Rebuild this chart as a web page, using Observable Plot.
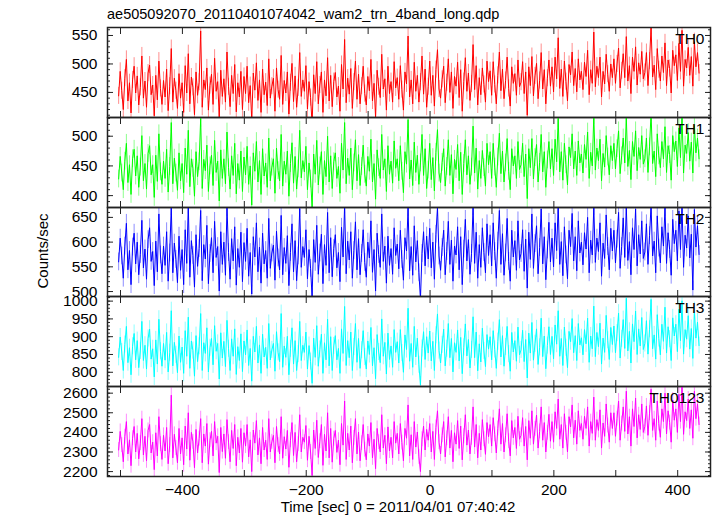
<!DOCTYPE html>
<html>
<head>
<meta charset="utf-8">
<script src="https://cdn.jsdelivr.net/npm/d3@7"></script>
<script src="https://cdn.jsdelivr.net/npm/@observablehq/plot@0.6"></script>
<style>
  html, body { margin: 0; padding: 0; background: #fff; }
  #wrap { position: relative; width: 717px; height: 516px; font-family: "Liberation Sans", Arial, Helvetica, sans-serif; color: #000; overflow: hidden; }
  .abs { position: absolute; white-space: nowrap; line-height: 1; }
  #wrap svg { overflow: visible; }
</style>
</head>
<body>
<div id="wrap">
  <div class="abs" id="title" style="left:107px; top:7px; font-size:14.5px;">ae505092070_20110401074042_wam2_trn_4band_long.qdp</div>
  <div class="abs" id="ylab" style="left:42px; top:251px; font-size:15px; transform: translate(-50%,-50%) rotate(-90deg);">Counts/sec</div>
  <div class="abs" id="xlab" style="left:398px; top:499px; font-size:15px; transform: translateX(-50%);">Time [sec] 0 = 2011/04/01 07:40:42</div>
</div>
<script>
// ---- data (count rates) ----
const t0 = -503;   // first bin time [sec]
const dt = 2.5;    // bin spacing [sec]

const th0 = [
444,487,453,420,475,508,435,467,414,472,496,449,479,428,459,514,440,470,424,484,
498,446,463,409,480,437,505,457,429,471,442,491,418,461,527,433,475,453,422,483,
440,467,415,497,449,518,430,477,459,411,486,445,468,558,424,472,455,493,419,462,
482,429,510,452,469,407,489,443,474,433,521,460,425,480,448,499,416,467,442,487,
420,478,448,496,432,462,401,484,454,502,436,472,415,491,446,468,427,509,440,461,
475,417,493,455,438,515,429,471,449,486,412,467,501,434,479,424,458,520,443,472,
452,497,421,469,441,394,481,448,504,430,463,486,415,472,444,511,435,480,425,469,
485,442,461,417,499,456,543,432,475,447,492,422,468,505,438,482,430,461,496,448,
428,478,453,508,435,466,406,489,460,441,517,456,474,419,496,448,469,433,504,458,
476,438,497,455,419,486,465,549,442,472,430,503,452,480,433,468,514,447,491,424,
460,505,445,480,426,490,525,456,440,473,496,432,467,509,450,486,422,478,461,503,
441,490,417,469,511,452,484,436,465,534,455,497,428,476,446,493,464,433,505,469,
488,445,504,464,430,480,521,453,491,439,471,512,457,426,495,466,483,445,507,460,
468,504,448,486,410,495,462,513,444,479,501,439,471,520,456,490,430,475,507,461,
495,451,512,474,546,457,491,443,505,469,435,499,481,521,462,492,451,509,472,487,
455,503,478,524,446,490,466,556,460,496,476,512,442,487,465,517,482,452,500,476,
509,466,500,528,458,488,518,476,548,470,497,448,512,487,530,463,502,482,522,474,
485,520,462,505,566,477,498,455,527,490,470,514,485,537,462,507,492,449,524,497,
516,471,536,487,559,461,508,493,529,480,513,461,539,495,520,484
];

const th1 = [
428,466,438,410,458,488,422,452,402,462,478,433,467,414,448,501,425,454,411,471,
484,435,452,397,468,424,504,440,419,458,429,478,406,449,523,420,463,438,409,472,
425,454,405,480,436,510,415,462,446,399,474,432,457,530,412,461,442,485,407,450,
468,417,493,439,458,391,477,429,462,420,507,447,411,467,434,488,403,454,426,475,
407,465,435,483,419,450,384,472,441,491,423,459,402,479,433,455,414,497,425,448,
462,404,480,442,425,503,416,458,436,475,399,454,489,421,466,411,445,510,430,459,
440,483,410,455,428,380,470,436,493,418,450,474,402,459,432,500,423,467,412,457,
472,429,449,404,488,443,523,420,463,434,480,410,455,494,425,469,417,449,485,436,
416,466,441,495,423,454,394,477,447,429,503,443,462,407,484,436,458,421,492,446,
462,425,484,441,405,474,453,528,428,460,417,490,439,468,419,455,503,434,479,412,
443,488,427,464,408,473,511,438,422,456,479,416,449,494,434,469,403,461,444,486,
425,473,402,454,494,435,467,419,448,517,438,480,411,459,429,476,447,416,488,452,
474,429,488,448,414,465,505,437,475,423,455,496,441,410,479,450,467,429,491,444,
452,488,432,470,395,479,447,496,428,464,486,423,456,503,440,474,414,460,491,445,
479,434,495,457,530,440,474,426,488,452,418,482,464,504,445,475,434,492,455,470,
438,486,461,507,429,473,450,535,443,480,459,495,425,471,448,501,465,435,484,459,
488,445,479,509,437,467,497,455,532,449,476,427,491,466,509,442,481,461,501,453,
462,497,439,482,540,454,475,432,504,467,447,491,462,516,439,484,469,426,501,474,
492,449,514,464,536,438,485,471,506,458,490,438,518,472,497,462
];

const th2 = [
560,608,572,527,592,638,544,583,514,590,618,556,600,534,575,644,548,586,525,605,
629,561,581,512,602,540,657,574,536,592,553,621,521,578,672,538,598,565,518,612,
543,585,514,625,557,675,529,603,573,509,615,551,587,664,522,595,566,634,516,577,
609,538,642,569,591,501,621,555,600,533,670,579,525,607,562,631,513,587,549,620,
520,599,561,628,531,579,495,611,570,639,540,590,517,618,556,583,527,648,547,578,
594,523,622,568,544,654,534,589,557,613,512,579,637,540,603,522,572,668,549,591,
569,625,526,585,547,488,605,559,634,535,578,616,516,595,553,660,538,609,530,587,
615,548,579,520,630,570,675,536,602,564,621,527,583,641,544,607,534,577,625,559,
529,600,568,643,539,585,501,618,575,549,657,561,592,517,612,553,587,535,629,573,
596,546,624,565,523,609,582,670,542,591,533,633,560,603,538,485,577,621,552,612,
566,628,548,600,525,616,670,572,543,589,624,534,581,642,555,604,521,592,574,631,
544,611,514,586,646,562,605,535,577,672,557,620,527,595,549,629,579,538,637,573,
615,552,639,581,527,602,664,555,617,533,578,648,561,521,624,570,603,543,643,564,
577,625,541,606,507,620,565,657,547,597,633,536,589,667,556,611,524,584,640,560,
608,550,639,583,675,555,601,532,631,574,526,624,591,658,562,611,542,643,578,600,
554,619,586,650,538,604,574,672,559,608,581,639,531,598,567,655,591,544,628,582,
624,558,606,660,547,591,649,569,672,563,601,534,629,585,667,552,615,576,643,567,
580,637,555,613,674,572,602,538,653,588,558,631,592,670,557,619,585,533,646,597,
624,562,663,585,676,549,614,588,653,568,616,503,666,590,633,575
];

const th3 = [
842,899,857,805,878,929,827,869,793,873,909,835,889,813,860,943,833,876,809,895,
921,837,866,787,891,823,949,859,817,881,834,912,801,855,973,818,884,849,799,902,
828,871,797,917,845,955,811,888,861,789,903,830,873,965,805,883,853,925,801,869,
895,821,931,859,881,781,911,840,887,816,946,866,805,894,845,922,794,872,833,908,
802,888,849,919,819,867,775,901,857,929,826,877,797,907,843,870,811,937,835,863,
881,803,914,856,830,965,814,874,842,901,793,866,925,823,889,805,851,943,833,876,
856,913,809,875,830,769,896,842,931,817,864,907,797,883,835,949,818,900,805,874,
903,835,867,797,922,853,985,819,889,841,913,805,871,937,828,895,811,862,917,843,
809,888,850,926,818,869,782,906,857,827,950,845,884,795,910,836,874,814,920,856,
886,826,920,854,800,905,864,980,831,881,814,929,843,896,821,764,867,914,836,900,
854,916,832,887,805,904,964,861,826,877,921,818,866,937,841,895,801,883,856,919,
832,898,796,870,936,846,892,812,863,956,841,913,804,880,829,924,860,816,906,865,
900,835,917,864,811,886,948,843,903,817,871,929,851,803,912,857,889,831,927,849,
863,918,830,892,784,910,854,940,834,880,922,822,870,952,844,902,810,875,928,850,
901,838,933,879,973,845,895,819,927,869,813,915,886,951,855,903,833,937,877,897,
849,920,880,952,828,902,866,986,844,912,872,938,823,896,856,960,890,836,926,878,
930,855,910,966,840,894,948,867,1008,860,915,826,936,886,972,850,922,874,954,864,
881,945,851,921,1005,866,905,837,962,895,849,935,887,983,854,928,893,833,953,902,
935,858,977,889,1001,851,920,893,959,865,923,839,973,896,941,875
];

const th0123 = [
2310,2405,2335,2250,2378,2455,2290,2362,2230,2370,2430,2300,2395,2265,2345,2470,2285,2380,2255,2410,
2440,2295,2350,2210,2398,2280,2480,2340,2262,2385,2305,2425,2240,2335,2590,2270,2390,2320,2245,2420,
2290,2372,2235,2432,2315,2500,2258,2400,2352,2220,2415,2295,2368,2470,2245,2392,2330,2445,2238,2360,
2405,2280,2455,2345,2380,2195,2425,2302,2392,2268,2465,2350,2250,2410,2318,2440,2230,2375,2295,2420,
2248,2398,2330,2440,2275,2362,2200,2412,2345,2460,2285,2372,2240,2425,2310,2360,2262,2470,2300,2352,
2385,2245,2430,2335,2290,2480,2268,2378,2315,2410,2222,2360,2450,2282,2400,2250,2340,2490,2300,2375,
2350,2435,2258,2380,2300,2180,2412,2318,2462,2272,2355,2440,2232,2390,2305,2500,2270,2420,2248,2368,
2410,2298,2360,2235,2445,2335,2560,2262,2395,2310,2432,2245,2372,2470,2290,2402,2255,2345,2440,2312,
2260,2392,2330,2450,2270,2365,2215,2420,2350,2300,2490,2320,2385,2240,2428,2305,2375,2270,2455,2345,
2395,2290,2445,2348,2255,2420,2370,2540,2280,2388,2262,2455,2325,2402,2275,2200,2365,2432,2310,2415,
2360,2445,2300,2405,2262,2425,2510,2350,2290,2385,2455,2275,2370,2480,2320,2410,2250,2398,2340,2460,
2318,2432,2260,2380,2490,2335,2412,2290,2372,2530,2325,2440,2270,2395,2310,2465,2365,2288,2450,2378,
2440,2330,2475,2390,2295,2420,2520,2340,2445,2300,2385,2495,2355,2280,2460,2372,2425,2318,2482,2365,
2385,2475,2330,2430,2260,2460,2370,2510,2340,2418,2488,2320,2405,2530,2360,2450,2300,2398,2492,2355,
2455,2350,2505,2420,2570,2365,2440,2320,2495,2398,2300,2480,2428,2540,2372,2462,2340,2510,2410,2445,
2365,2482,2420,2530,2330,2455,2395,2580,2360,2465,2410,2515,2320,2448,2380,2545,2435,2350,2500,2420,
2500,2380,2470,2560,2360,2445,2530,2405,2610,2392,2480,2330,2520,2430,2575,2372,2490,2415,2545,2400,
2430,2535,2385,2498,2620,2410,2470,2360,2560,2445,2375,2520,2455,2600,2392,2510,2450,2350,2565,2462,
2520,2400,2595,2455,2640,2390,2505,2460,2570,2420,2515,2370,2610,2470,2545,2440
];

const bandNames = ["TH0", "TH1", "TH2", "TH3", "TH0123"];
const bandErrors = [15, 15, 18, 24, 38];             // typical 1-sigma error per bin
const xTickValues = [-500, -400, -300, -200, -100, 0, 100, 200, 300, 400];
const xTickLabels = [-400, -200, 0, 200, 400];
const yTickLabels = [
  [450, 500, 550],
  [400, 450, 500],
  [500, 550, 600, 650],
  [800, 850, 900, 950, 1000],
  [2200, 2300, 2400, 2500, 2600]
];
const yMinorStep = [10, 10, 10, 10, 20];

// ---- layout / styling ----
const series = [th0, th1, th2, th3, th0123];
const colors = ["#ff0000", "#00ff00", "#0000ff", "#00ffff", "#ff00ff"];
const yDomains = [[406, 564], [380, 531.5], [490, 670], [760, 1013], [2175, 2634]];
const panelTops = [27, 117, 207, 296, 386];
const panelHeights = [90, 90, 89, 90, 90];
const xDomain = [-521, 453];
const blank = () => "";

const wrap = document.getElementById("wrap");

series.forEach((vals, i) => {
  const last = i === series.length - 1;
  const data = vals.map((v, j) => ({t: t0 + j * dt, v}));
  const err = bandErrors[i];
  const [lo, hi] = yDomains[i];
  const step = yMinorStep[i];
  const minor = d3.range(Math.ceil(lo / step) * step, hi, step);
  const major = yTickLabels[i];

  const marks = [
    Plot.ruleX(data, {x: "t", y1: d => d.v - err, y2: d => d.v + err, stroke: colors[i], strokeOpacity: 0.45, strokeWidth: 1, clip: true}),
    Plot.line(data, {x: "t", y: "v", stroke: colors[i], strokeWidth: 1, clip: true}),
    Plot.frame({stroke: "#222", strokeWidth: 1.5}),
    Plot.axisY(major, {anchor: "left", tickSize: -6, tickFormat: blank, label: null, stroke: "#222"}),
    Plot.axisY(minor, {anchor: "left", tickSize: -3, tickFormat: blank, label: null, stroke: "#222"}),
    Plot.axisY(major, {anchor: "right", tickSize: -6, tickFormat: blank, label: null, stroke: "#222"}),
    Plot.axisY(minor, {anchor: "right", tickSize: -3, tickFormat: blank, label: null, stroke: "#222"}),
    Plot.axisY(major, {anchor: "left", tickSize: 0, tickPadding: 10, label: null, tickFormat: d => String(d)}),
    Plot.axisX(xTickValues, {anchor: "top", tickSize: -6, tickFormat: blank, label: null, stroke: "#222"}),
    Plot.axisX(xTickValues, {anchor: "bottom", tickSize: -6, tickFormat: blank, label: null, stroke: "#222"}),
    Plot.text([bandNames[i]], {text: d => d, frameAnchor: "top-right", textAnchor: "end", lineAnchor: "top", dx: -6, dy: 5, fill: "#000", fontSize: 15.5})
  ];
  if (last) {
    marks.push(Plot.axisX(xTickLabels, {anchor: "bottom", tickSize: 0, tickPadding: 7, label: null}));
  }

  const chart = Plot.plot({
    width: 717,
    height: panelHeights[i] + (last ? 40 : 0),
    marginLeft: 107,
    marginRight: 7,
    marginTop: 0,
    marginBottom: last ? 40 : 0,
    x: {domain: xDomain},
    y: {domain: [lo, hi]},
    style: {fontSize: "15.5px", fontFamily: "'Liberation Sans', Arial, Helvetica, sans-serif", background: "transparent", overflow: "visible", color: "#000"},
    marks
  });
  const holder = document.createElement("div");
  holder.style.position = "absolute";
  holder.style.left = "0px";
  holder.style.top = panelTops[i] + "px";
  holder.appendChild(chart);
  wrap.appendChild(holder);
});
</script>
</body>
</html>
